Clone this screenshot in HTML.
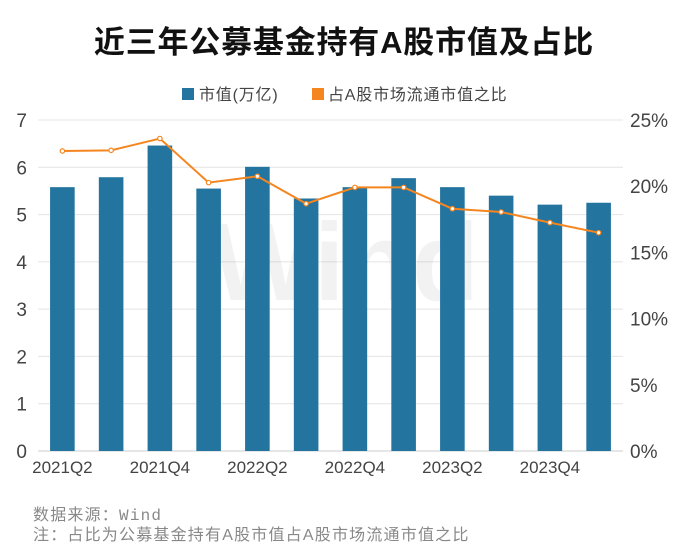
<!DOCTYPE html>
<html><head><meta charset="utf-8"><style>
body{margin:0;background:#fff;font-family:"Liberation Sans","Noto Sans CJK SC",sans-serif;}
#wrap{position:relative;width:688px;height:548px;overflow:hidden;}
</style></head><body>
<div id="wrap">
<svg id="c" width="688" height="548" xmlns="http://www.w3.org/2000/svg"></svg>
</div>
<script>
const categories=["2021Q2","2021Q3","2021Q4","2022Q1","2022Q2","2022Q3","2022Q4","2023Q1","2023Q2","2023Q3","2023Q4","2024Q1"];
const marketValue=[5.58,5.79,6.46,5.55,6.01,5.34,5.58,5.77,5.58,5.40,5.21,5.25];
const sharePct=[22.66,22.71,23.6,20.27,20.75,18.68,19.91,19.91,18.30,18.05,17.25,16.49];
const leftTicks=[0,1,2,3,4,5,6,7];
const rightTicks=[0,5,10,15,20,25];
const xLabels=["2021Q2","2021Q4","2022Q2","2022Q4","2023Q2","2023Q4"];

const NS="http://www.w3.org/2000/svg";
const svg=document.getElementById('c');
const L=38,R=623,T=120,B=451;
const slot=(R-L)/categories.length;
const xC=i=>L+slot*(i+0.5);
const yL=v=>B-(v/7)*(B-T);
const yR=v=>B-(v/25)*(B-T);
function mk(tag,attrs,parent){const e=document.createElementNS(NS,tag);for(const k in attrs)e.setAttribute(k,attrs[k]);(parent||svg).appendChild(e);return e;}
function txt(s,attrs){const e=mk('text',attrs);e.textContent=s;return e;}

let t=txt("近三年公募基金持有A股市值及占比",{x:344,y:53,'text-anchor':'middle','font-size':31,'font-weight':'bold',fill:'#111','letter-spacing':0.8});



// legend
let lg=mk('g',{});


let r1=mk('rect',{x:182,y:88,width:12,height:12,fill:'#2474a0'},lg);


let t1=mk('text',{x:199,y:100,'font-size':16,fill:'#444','letter-spacing':0.8},lg);t1.textContent="市值(万亿)";


let r2=mk('rect',{x:312,y:88,width:12,height:12,fill:'#f5861f'},lg);


let t2=mk('text',{x:328,y:100,'font-size':16,fill:'#444','letter-spacing':0.8},lg);t2.textContent="占A股市场流通市值之比";



// grid + ticks
leftTicks.forEach(v=>{
  let g=mk('line',{x1:L,x2:R,y1:yL(v),y2:yL(v),stroke:v===0?'#ccc':'#e4e4e4','stroke-width':1});
  
  
  let l=txt(String(v),{x:27,y:yL(v)+7,'text-anchor':'end','font-size':19,fill:'#444'});
  
  
});
rightTicks.forEach(v=>{
  let l=txt(v+"%",{x:630,y:yR(v)+7,'font-size':19,fill:'#444'});
  
  
});

// watermark
let w=txt("Wind",{x:345,y:300,'text-anchor':'middle','font-size':110,'font-weight':'bold',fill:'#000','fill-opacity':0.05});



// bars
const bw=24.6;
marketValue.forEach((v,i)=>{
  let b=mk('rect',{x:xC(i)-bw/2,y:yL(v),width:bw,height:B-yL(v),fill:'#2474a0'});
  
  
});

// line
let pts=sharePct.map((v,i)=>xC(i)+','+yR(v)).join(' ');
let pl=mk('polyline',{points:pts,fill:'none',stroke:'#f5861f','stroke-width':2});


sharePct.forEach((v,i)=>{
  let c=mk('circle',{cx:xC(i),cy:yR(v),r:2.2,fill:'#fff',stroke:'#f5861f','stroke-width':1.2});
  
  
});

// x labels
xLabels.forEach(s=>{
  const i=categories.indexOf(s);
  let l=txt(s,{x:xC(i),y:473,'text-anchor':'middle','font-size':17,fill:'#444'});
  
  
});

let f1=mk('text',{x:33,y:520,'font-size':16,fill:'#888','letter-spacing':1.2});
f1.innerHTML='数据来源：<tspan font-family="Liberation Mono, monospace">Wind</tspan>';


let f2=txt("注：占比为公募基金持有A股市值占A股市场流通市值之比",{x:33,y:540,'font-size':16,fill:'#888','letter-spacing':1.2});


</script>
</body></html>
